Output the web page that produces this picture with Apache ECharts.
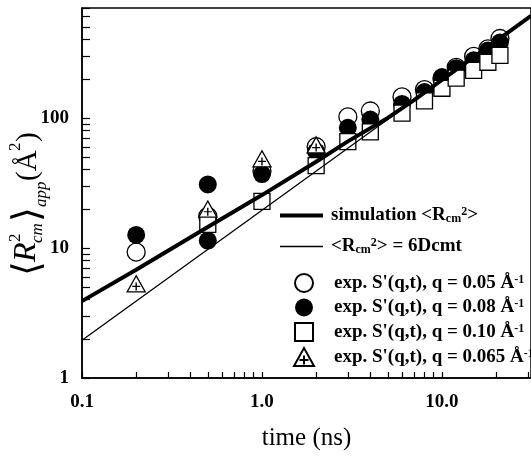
<!DOCTYPE html>
<html><head><meta charset="utf-8">
<script src="https://cdn.jsdelivr.net/npm/echarts@6/dist/echarts.min.js"></script>
<style>html,body{margin:0;padding:0;background:#fff}#c{width:531px;height:456px}</style>
</head><body><div id="c"></div>
<script>
// ---- data ----
const simTime = [0.1, 0.2, 0.5, 1, 2, 3, 5, 7, 10, 15, 20, 31.25];
const simR2   = [3.9, 6.8, 14.5, 25.5, 46, 66, 100, 137, 196, 293, 390, 610];
const theoryTime = [0.1, 1, 10, 31.25];
const theoryR2   = [1.95, 19.5, 195, 609];

const q005Time = [0.2, 0.5, 1, 2, 3, 4, 6, 8, 10, 12, 15, 18, 21];
const q005R2   = [9.3, 17.5, 39, 60, 102, 113, 145, 165, 200, 245, 297, 340, 408];
const q008Time = [0.2, 0.5, 0.5, 1, 2, 3, 4, 6, 8, 10, 12, 15, 18, 21];
const q008R2   = [12.6, 30.8, 11.4, 37, 55, 84, 97, 128, 158, 206, 241, 277, 330, 380];
const q010Time = [0.5, 1, 2, 3, 4, 6, 8, 10, 12, 15, 18, 21];
const q010R2   = [15.2, 22.8, 43, 65.6, 78, 109, 135, 169, 202, 232, 268, 303];
const q0065Time = [0.2, 0.5, 1, 2];
const q0065R2   = [5.3, 19.9, 48.5, 62];

const seriesNames = ['simulation', 'theory', 'q005', 'q008', 'q010', 'q0065'];
const legendTexts = [
  '{t|simulation <R}{sub|cm}{sup|2}{t|>}',
  '{t|<R}{sub|cm}{sup|2}{t|> = 6Dcmt}',
  "{t|exp. S'(q,t), q = 0.05 Å}{sup|-1}",
  "{t|exp. S'(q,t), q = 0.08 Å}{sup|-1}",
  "{t|exp. S'(q,t), q = 0.10 Å}{sup|-1}",
  "{t|exp. S'(q,t), q = 0.065 Å}{sup|-1}"
];

const xTickValues = [0.1,0.2,0.3,0.4,0.5,0.6,0.7,0.8,0.9,1,2,3,4,5,6,7,8,9,10,20,30];
const xLabelValues = [0.1, 1, 10];
const xLabelTexts = ['0.1', '1.0', '10.0'];
const yTickValues = [1,2,3,4,5,6,7,8,9,10,20,30,40,50,60,70,80,90,100,200,300,400,500,600,700];
const yLabelValues = [1, 10, 100];
const yLabelTexts = ['1', '10', '100'];

const xTitle = 'time (ns)';

// ---- helpers ----
const zip = (a, b) => a.map((v, i) => [v, b[i]]);
const lookup = (vals, texts) => (v) => {
  const i = vals.findIndex(t => Math.abs(Math.log10(t) - Math.log10(v)) < 1e-6);
  return i >= 0 ? texts[i] : '';
};
const SERIF = '"Liberation Serif", "Times New Roman", serif';
const richLegend = {
  t:   {fontFamily: SERIF, fontWeight: 'bold', fontSize: 19, lineHeight: 19, color: '#000'},
  sub: {fontFamily: SERIF, fontWeight: 'bold', fontSize: 12, lineHeight: 8, verticalAlign: 'bottom', color: '#000'},
  sup: {fontFamily: SERIF, fontWeight: 'bold', fontSize: 12, lineHeight: 8, verticalAlign: 'top', color: '#000'}
};
const legendFmt = (name) => legendTexts[seriesNames.indexOf(name)];

const openStyle = {color: '#fff', borderColor: '#000', borderWidth: 1.3, opacity: 1};
const triPath = 'path://M0,-10L10,8L-10,8Z M0,-2.5L0,6.5 M-4.5,2L4.5,2';
const sqPath = 'path://M0,0L10,0L10,10L0,10Z';
const thickIcon = 'path://M0,0L43,0L43,4L0,4Z';
const thinIcon = 'path://M0,0L43,0L43,1.4L0,1.4Z';

const chart = echarts.init(document.getElementById('c'), null, {renderer: 'canvas'});
const option = {
  animation: false,
  backgroundColor: '#fff',
  grid: {left: 82, right: -10, top: 8, bottom: 76, show: true, borderColor: '#000', borderWidth: 1.5},
  xAxis: {
    type: 'log', logBase: 10, min: 0.1, max: 31.25,
    axisLine: {lineStyle: {color: '#000', width: 1.5}},
    axisTick: {inside: true, length: 6, lineStyle: {color: '#000', width: 1.2}, customValues: xTickValues},
    axisLabel: {customValues: xLabelValues, formatter: lookup(xLabelValues, xLabelTexts), margin: 15,
      color: '#000', fontFamily: SERIF, fontWeight: 'bold', fontSize: 19},
    splitLine: {show: false},
    name: xTitle, nameLocation: 'middle', nameGap: 48,
    nameTextStyle: {color: '#000', fontFamily: SERIF, fontSize: 25}
  },
  yAxis: {
    type: 'log', logBase: 10, min: 1, max: 700,
    axisLine: {lineStyle: {color: '#000', width: 1.5}},
    axisTick: {inside: true, length: 8, lineStyle: {color: '#000', width: 1.2}, customValues: yTickValues},
    axisLabel: {customValues: yLabelValues, formatter: lookup(yLabelValues, yLabelTexts), margin: 13,
      color: '#000', fontFamily: SERIF, fontWeight: 'bold', fontSize: 19},
    splitLine: {show: false}
  },
  legend: [
    {data: [{name: seriesNames[0], icon: thickIcon}, {name: seriesNames[1], icon: thinIcon}],
     orient: 'vertical', left: 275, top: 201, itemWidth: 43, itemHeight: 14, itemGap: 12,
     formatter: legendFmt, textStyle: {rich: richLegend, padding: [0, 0, 0, 3]}, selectedMode: false},
    {data: seriesNames.slice(2), orient: 'vertical', left: 288, top: 268, itemWidth: 40, itemHeight: 18, itemGap: 5,
     formatter: legendFmt, textStyle: {rich: richLegend, padding: [0, 0, 0, 5]}, selectedMode: false}
  ],
  graphic: [{
    type: 'group', x: 37, y: 276, rotation: Math.PI / 2, silent: true,
    children: [
      {type: 'text', x: 0, y: -8, style: {text: '⟨', font: '38px "DejaVu Sans"', verticalAlign: 'middle', fill: '#000'}},
      {type: 'text', x: 14, y: -10, style: {text: 'R', font: 'italic 32px "Liberation Serif"', verticalAlign: 'middle', fill: '#000'}},
      {type: 'text', x: 34, y: -21, style: {text: '2', font: '17px "Liberation Serif"', verticalAlign: 'middle', fill: '#000'}},
      {type: 'text', x: 33, y: 1, style: {text: 'cm', font: 'italic 17px "Liberation Serif"', verticalAlign: 'middle', fill: '#000'}},
      {type: 'text', x: 54, y: -8, style: {text: '⟩', font: '38px "DejaVu Sans"', verticalAlign: 'middle', fill: '#000'}},
      {type: 'text', x: 69, y: 5, style: {text: 'app', font: 'italic 17px "Liberation Serif"', verticalAlign: 'middle', fill: '#000'}},
      {type: 'text', x: 95, y: -9, style: {text: '(Å', font: '29px "Liberation Serif"', verticalAlign: 'middle', fill: '#000'}},
      {type: 'text', x: 125, y: -21, style: {text: '2', font: '17px "Liberation Serif"', verticalAlign: 'middle', fill: '#000'}},
      {type: 'text', x: 134, y: -9, style: {text: ')', font: '29px "Liberation Serif"', verticalAlign: 'middle', fill: '#000'}}
    ]
  }],
  series: [
    {name: seriesNames[1], type: 'line', data: zip(theoryTime, theoryR2), symbol: 'none', lineStyle: {color: '#000', width: 1.3}, itemStyle: {color: '#000'}},
    {name: seriesNames[0], type: 'line', data: zip(simTime, simR2), symbol: 'none', lineStyle: {color: '#000', width: 4}, itemStyle: {color: '#000'}},
    {name: seriesNames[2], type: 'scatter', data: zip(q005Time, q005R2), symbol: 'circle', symbolSize: 18, itemStyle: openStyle},
    {name: seriesNames[3], type: 'scatter', data: zip(q008Time, q008R2), symbol: 'circle', symbolSize: 18, itemStyle: {color: '#000', opacity: 1}},
    {name: seriesNames[4], type: 'scatter', data: zip(q010Time, q010R2), symbol: sqPath, symbolSize: 16, itemStyle: openStyle},
    {name: seriesNames[5], type: 'scatter', data: zip(q0065Time, q0065R2), symbol: triPath, symbolSize: [18, 16], itemStyle: openStyle}
  ]
};
chart.setOption(option);
</script>
</body></html>
